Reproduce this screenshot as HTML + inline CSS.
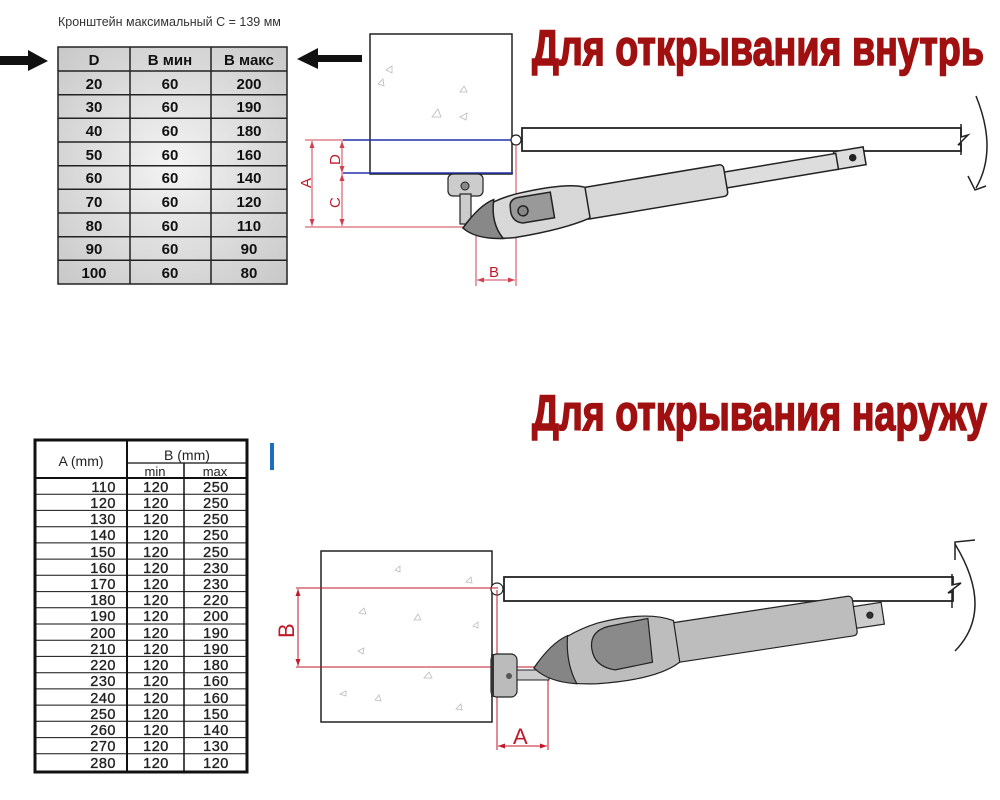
<!DOCTYPE html>
<html><head><meta charset="utf-8"><style>
html,body{margin:0;padding:0;background:#fff;width:1000px;height:800px;overflow:hidden}
svg{display:block}
text{font-family:"Liberation Sans","DejaVu Sans",sans-serif}
</style></head><body>
<svg width="1000" height="800" viewBox="0 0 1000 800" xmlns="http://www.w3.org/2000/svg">
<defs>
<radialGradient id="cell" cx="50%" cy="50%" r="70%">
<stop offset="0" stop-color="#f4f4f4"/><stop offset="1" stop-color="#c8c8c8"/>
</radialGradient>
</defs>
<text x="58" y="26" font-size="12.5" fill="#333">Кронштейн максимальный  С = 139 мм</text>
<polygon points="0,56 28,56 28,50 48,61 28,71 28,65 0,65" fill="#111"/>
<polygon points="362,55 318,55 318,48 297,59 318,69 318,62 362,62" fill="#111"/>
<g stroke="#222" stroke-width="1.5">
<rect x="58" y="47" width="229" height="237" fill="url(#cell)"/>
<line x1="130" y1="47" x2="130" y2="284"/><line x1="211" y1="47" x2="211" y2="284"/>
<line x1="58" y1="71" x2="287" y2="71"/>
<line x1="58" y1="94.7" x2="287" y2="94.7"/><line x1="58" y1="118.3" x2="287" y2="118.3"/>
<line x1="58" y1="142" x2="287" y2="142"/><line x1="58" y1="165.7" x2="287" y2="165.7"/>
<line x1="58" y1="189.3" x2="287" y2="189.3"/><line x1="58" y1="213" x2="287" y2="213"/>
<line x1="58" y1="236.7" x2="287" y2="236.7"/><line x1="58" y1="260.3" x2="287" y2="260.3"/>
</g>
<g font-size="15" font-weight="bold" text-anchor="middle" fill="#111">
<text x="94" y="65">D</text><text x="170" y="65">В мин</text><text x="249" y="65">В макс</text>
<text x="94" y="89">20</text><text x="170" y="89">60</text><text x="249" y="89">200</text>
<text x="94" y="112">30</text><text x="170" y="112">60</text><text x="249" y="112">190</text>
<text x="94" y="136">40</text><text x="170" y="136">60</text><text x="249" y="136">180</text>
<text x="94" y="160">50</text><text x="170" y="160">60</text><text x="249" y="160">160</text>
<text x="94" y="183">60</text><text x="170" y="183">60</text><text x="249" y="183">140</text>
<text x="94" y="207">70</text><text x="170" y="207">60</text><text x="249" y="207">120</text>
<text x="94" y="231">80</text><text x="170" y="231">60</text><text x="249" y="231">110</text>
<text x="94" y="254">90</text><text x="170" y="254">60</text><text x="249" y="254">90</text>
<text x="94" y="278">100</text><text x="170" y="278">60</text><text x="249" y="278">80</text>
</g>
<text x="532" y="65" font-size="50" font-weight="bold" fill="#a01010" stroke="#a01010" stroke-width="1.6" textLength="452" lengthAdjust="spacingAndGlyphs">Для открывания внутрь</text>
<text x="532" y="430" font-size="50" font-weight="bold" fill="#a01010" stroke="#a01010" stroke-width="1.6" textLength="455" lengthAdjust="spacingAndGlyphs">Для открывания наружу</text>

<rect x="370" y="34" width="142" height="140" fill="#fff" stroke="#222" stroke-width="1.5"/>
<g fill="none" stroke="#bbb" stroke-width="0.8">
<path d="M386 70 l6 -4 l0 7z"/><path d="M378 84 l5 -5 l1 7z"/><path d="M460 92 l4 -6 l3 6z"/><path d="M432 117 l6 -8 l3 8z"/><path d="M460 117 l7 -4 l-1 7z"/>
</g>
<line x1="343" y1="140" x2="513" y2="140" stroke="#2233aa" stroke-width="1.5"/>
<line x1="343" y1="173" x2="513" y2="173" stroke="#2233aa" stroke-width="1.5"/>
<circle cx="516" cy="140" r="5" fill="#fff" stroke="#222" stroke-width="1.2"/>
<rect x="522" y="128" width="439" height="23" fill="#fff" stroke="#222" stroke-width="1.8"/>
<path d="M961 124 L961 137 L968 135 L958 145 L961 144 L961 155" fill="#fff" stroke="#222" stroke-width="1.5"/>
<path d="M976 96 Q998 150 976 188" fill="none" stroke="#222" stroke-width="1.5"/>
<path d="M968 176 L975 190 L986 186" fill="none" stroke="#222" stroke-width="1.5"/>
<g stroke="#d04050" stroke-width="1" fill="none">
<line x1="305" y1="140" x2="343" y2="140"/>
<line x1="305" y1="227" x2="472" y2="227"/>
<line x1="312" y1="141" x2="312" y2="226"/>
<line x1="342" y1="141" x2="342" y2="226"/>
<line x1="476" y1="228" x2="476" y2="286"/>
<line x1="516" y1="145" x2="516" y2="286"/>
<line x1="477" y1="280" x2="515" y2="280"/>
</g>
<g fill="#d04050">
<path d="M312 141 l-2.5 7 h5z"/><path d="M312 226 l-2.5 -7 h5z"/>
<path d="M342 141 l-2.5 7 h5z"/><path d="M342 173 l-2.5 -7 h5z"/><path d="M342 174 l-2.5 7 h5z"/><path d="M342 226 l-2.5 -7 h5z"/>
<path d="M477 280 l7 -2.5 v5z"/><path d="M515 280 l-7 -2.5 v5z"/>
</g>
<g fill="#c01a2a" font-size="15">
<text transform="translate(311,188) rotate(-90)">A</text>
<text transform="translate(340,165) rotate(-90)">D</text>
<text transform="translate(340,208) rotate(-90)">C</text>
<text x="489" y="277">B</text>
</g>
<rect x="448" y="174" width="35" height="22" rx="5" fill="#ccc" stroke="#222" stroke-width="1.2"/>
<circle cx="465" cy="186" r="4" fill="#888" stroke="#222"/>
<rect x="460" y="194" width="11" height="30" fill="#ccc" stroke="#222" stroke-width="1.2"/>
<g transform="translate(463,228) rotate(-9.5)" stroke="#222" stroke-width="1.5">
<rect x="378" y="-14" width="30" height="18" fill="#ddd"/>
<circle cx="396" cy="-5" r="3" fill="#222"/>
<rect x="262" y="-12" width="118" height="16" fill="#ddd"/>
<rect x="122" y="-20" width="145" height="32" rx="4" fill="#d8d8d8"/>
<path d="M0 0 Q20 -22 60 -25 Q110 -28 127 -20 L127 11 Q100 18 50 18 Q15 16 0 0z" fill="#d8d8d8"/>
<path d="M0 0 Q20 -20 35 -23 Q28 0 38 17 Q10 13 0 0z" fill="#888"/>
<path d="M50 -12 Q50 -21 60 -21 L92 -21 L92 5 L60 5 Q48 2 50 -12z" fill="#999"/>
<circle cx="62" cy="-7" r="5" fill="#888"/>
</g>

<rect x="270" y="443" width="4" height="27" fill="#1a6fc0"/>
<g stroke="#111" fill="none">
<rect x="35" y="440" width="212" height="332" stroke-width="3" fill="#fff"/>
<line x1="127" y1="440" x2="127" y2="772" stroke-width="2"/>
<line x1="127" y1="463" x2="247" y2="463" stroke-width="1.2"/>
<line x1="184" y1="463" x2="184" y2="772" stroke-width="1.5"/>
<line x1="35" y1="478" x2="247" y2="478" stroke-width="2"/>
</g>
<g stroke="#111" stroke-width="1">
<line x1="35" y1="494.2" x2="247" y2="494.2"/><line x1="35" y1="510.4" x2="247" y2="510.4"/>
<line x1="35" y1="526.7" x2="247" y2="526.7"/><line x1="35" y1="542.9" x2="247" y2="542.9"/>
<line x1="35" y1="559.1" x2="247" y2="559.1"/><line x1="35" y1="575.3" x2="247" y2="575.3"/>
<line x1="35" y1="591.6" x2="247" y2="591.6"/><line x1="35" y1="607.8" x2="247" y2="607.8"/>
<line x1="35" y1="624" x2="247" y2="624"/><line x1="35" y1="640.2" x2="247" y2="640.2"/>
<line x1="35" y1="656.4" x2="247" y2="656.4"/><line x1="35" y1="672.7" x2="247" y2="672.7"/>
<line x1="35" y1="688.9" x2="247" y2="688.9"/><line x1="35" y1="705.1" x2="247" y2="705.1"/>
<line x1="35" y1="721.3" x2="247" y2="721.3"/><line x1="35" y1="737.6" x2="247" y2="737.6"/>
<line x1="35" y1="753.8" x2="247" y2="753.8"/>
</g>
<g font-size="14" fill="#222">
<text x="81" y="466" text-anchor="middle">A (mm)</text>
<text x="187" y="460" text-anchor="middle">B (mm)</text>
<text x="155" y="476" text-anchor="middle" font-size="13">min</text>
<text x="215" y="476" text-anchor="middle" font-size="13">max</text>
</g>
<g font-size="14.5" fill="#222" stroke="#222" stroke-width="0.35" letter-spacing="0.5">
<g text-anchor="end">
<text x="116" y="492">110</text><text x="116" y="508">120</text><text x="116" y="524">130</text><text x="116" y="540">140</text><text x="116" y="557">150</text><text x="116" y="573">160</text><text x="116" y="589">170</text><text x="116" y="605">180</text><text x="116" y="621">190</text><text x="116" y="638">200</text><text x="116" y="654">210</text><text x="116" y="670">220</text><text x="116" y="686">230</text><text x="116" y="703">240</text><text x="116" y="719">250</text><text x="116" y="735">260</text><text x="116" y="751">270</text><text x="116" y="768">280</text>
</g>
<g text-anchor="middle">
<text x="156" y="492">120</text><text x="156" y="508">120</text><text x="156" y="524">120</text><text x="156" y="540">120</text><text x="156" y="557">120</text><text x="156" y="573">120</text><text x="156" y="589">120</text><text x="156" y="605">120</text><text x="156" y="621">120</text><text x="156" y="638">120</text><text x="156" y="654">120</text><text x="156" y="670">120</text><text x="156" y="686">120</text><text x="156" y="703">120</text><text x="156" y="719">120</text><text x="156" y="735">120</text><text x="156" y="751">120</text><text x="156" y="768">120</text>
<text x="216" y="492">250</text><text x="216" y="508">250</text><text x="216" y="524">250</text><text x="216" y="540">250</text><text x="216" y="557">250</text><text x="216" y="573">230</text><text x="216" y="589">230</text><text x="216" y="605">220</text><text x="216" y="621">200</text><text x="216" y="638">190</text><text x="216" y="654">190</text><text x="216" y="670">180</text><text x="216" y="686">160</text><text x="216" y="703">160</text><text x="216" y="719">150</text><text x="216" y="735">140</text><text x="216" y="751">130</text><text x="216" y="768">120</text>
</g>
</g>

<rect x="321" y="551" width="171" height="171" fill="#fff" stroke="#222" stroke-width="1.5"/>
<g fill="none" stroke="#bbb" stroke-width="0.8">
<path d="M395 570 l5 -4 l0 6z"/><path d="M466 582 l5 -5 l1 6z"/><path d="M359 613 l5 -5 l2 6z"/><path d="M414 620 l4 -6 l3 6z"/><path d="M473 626 l5 -4 l0 6z"/><path d="M358 651 l6 -3 l-1 6z"/><path d="M424 678 l5 -6 l3 6z"/><path d="M340 694 l6 -3 l0 5z"/><path d="M456 709 l5 -5 l1 6z"/><path d="M375 700 l4 -5 l2 6z"/>
</g>
<circle cx="497" cy="589" r="6" fill="#fff" stroke="#222" stroke-width="1.2"/>
<rect x="504" y="577" width="449" height="24" fill="#fff" stroke="#222" stroke-width="1.8"/>
<path d="M952 574 L952 585 L961 583 L948 593 L952 592 L952 608" fill="#fff" stroke="#222" stroke-width="1.5"/>
<path d="M955 544 Q995 610 955 651" fill="none" stroke="#222" stroke-width="1.5"/>
<path d="M955 560 L955 542 L975 540" fill="none" stroke="#222" stroke-width="1.5"/>
<g stroke="#c01a2a" stroke-width="1" fill="none">
<line x1="296" y1="588" x2="498" y2="588"/>
<line x1="296" y1="667" x2="548" y2="667"/>
<line x1="298" y1="589" x2="298" y2="666"/>
<line x1="497" y1="590" x2="497" y2="750"/>
<line x1="548" y1="667" x2="548" y2="750"/>
<line x1="498" y1="746" x2="547" y2="746"/>
</g>
<g fill="#c01a2a">
<path d="M298 589 l-2.5 7 h5z"/><path d="M298 666 l-2.5 -7 h5z"/>
<path d="M498 746 l7 -2.5 v5z"/><path d="M547 746 l-7 -2.5 v5z"/>
</g>
<g fill="#c01a2a" font-size="22">
<text transform="translate(294,638) rotate(-90)">B</text>
<text x="513" y="744">A</text>
</g>
<rect x="491" y="654" width="26" height="43" rx="6" fill="#bbb" stroke="#222" stroke-width="1.2"/>
<rect x="491" y="654" width="3" height="43" fill="#333"/>
<circle cx="509" cy="676" r="3" fill="#555"/>
<rect x="517" y="670" width="32" height="10" fill="#ccc" stroke="#222"/>
<g transform="translate(534,668) rotate(-8.6)" stroke="#222" stroke-width="1.2">
<rect x="323" y="-13" width="30" height="22" fill="#ccc"/>
<circle cx="340" cy="-2" r="3" fill="#333"/>
<rect x="140" y="-24" width="185" height="40" rx="4" fill="#bdbdbd"/>
<path d="M0 0 Q25 -28 70 -35 Q120 -40 145 -26 L145 16 Q120 30 60 25 Q15 20 0 0z" fill="#bdbdbd"/>
<path d="M0 0 Q20 -22 38 -27 Q32 0 40 22 Q12 16 0 0z" fill="#858585"/>
<path d="M60 -10 Q60 -28 80 -30 L120 -32 L118 12 L80 14 Q60 8 60 -10z" fill="#8a8a8a"/>
</g>
</svg>
</body></html>
